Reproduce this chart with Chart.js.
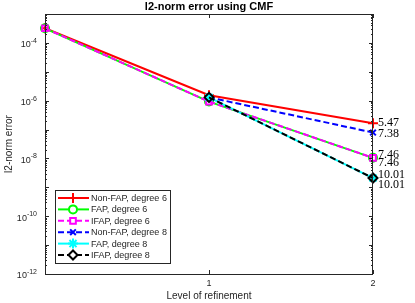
<!DOCTYPE html>
<html>
<head>
<meta charset="utf-8">
<script src="https://cdn.jsdelivr.net/npm/chart.js@4.4.0/dist/chart.umd.min.js"></script>
<style>
  html, body { margin: 0; padding: 0; background: #fff; }
  #wrap { width: 415px; height: 303px; }
</style>
</head>
<body>
<div id="wrap"><canvas id="c"></canvas></div>
<script>
// refinement levels on the x axis
const levels = [0, 1, 2];

// l2-norm errors per level (null = not computed)
const nonFap6 = [3.2e-4, 1.55e-6, 1.65e-7];
const fap6    = [3.2e-4, 9.3e-7, 1.05e-8];
const ifap6   = [3.2e-4, 9.3e-7, 1.05e-8];
const nonFap8 = [null, 1.3e-6, 7.9e-8];
const fap8    = [null, 1.3e-6, 2.1e-9];
const ifap8   = [null, 1.3e-6, 2.1e-9];

const seriesNames = ['Non-FAP, degree 6', 'FAP, degree 6', 'IFAP, degree 6',
                     'Non-FAP, degree 8', 'FAP, degree 8', 'IFAP, degree 8'];
// convergence rates written next to the last point
const rates = ['5.47', '7.46', '7.46', '7.38', '10.01', '10.01'];

const yTicks = [1e-12, 1e-10, 1e-8, 1e-6, 1e-4];
const xTicks = [1, 2];

const AXIS = '#262626';

function toPoints(vals) {
  const pts = [];
  vals.forEach((v, i) => { if (v !== null) pts.push({ x: levels[i], y: v }); });
  return pts;
}

const styles = [
  { color: '#ff0000', dash: [],     marker: 'cross',    r: 5 },
  { color: '#00ff00', dash: [],     marker: 'circle',   r: 4 },
  { color: '#ff00ff', dash: [6, 3], marker: 'rect',     r: 4 },
  { color: '#0000ff', dash: [6, 3], marker: 'crossRot', r: 4 },
  { color: '#00ffff', dash: [],     marker: 'star',     r: 5 },
  { color: '#000000', dash: [6, 3], marker: 'rectRot',  r: 4.5 }
];
const allSeries = [nonFap6, fap6, ifap6, nonFap8, fap8, ifap8];

const datasets = allSeries.map((vals, i) => ({
  label: seriesNames[i],
  data: toPoints(vals),
  showLine: true,
  clip: false,
  borderColor: styles[i].color,
  borderWidth: 2,
  borderDash: styles[i].dash,
  pointStyle: styles[i].marker,
  pointRadius: styles[i].r,
  pointBorderColor: styles[i].color,
  pointBackgroundColor: 'rgba(0,0,0,0)',
  pointBorderWidth: 2,
  order: 5 - i   // later series on top, like matlab
}));

// text offsets of the rate labels (px)
const rateOffsets = [0, -3, 5, 1, -3, 7];

const decor = {
  id: 'decor',
  afterDraw(chart) {
    const ctx = chart.ctx;
    const a = chart.chartArea;
    const xs = chart.scales.x, ys = chart.scales.y;
    ctx.save();

    // box
    ctx.strokeStyle = AXIS;
    ctx.lineWidth = 1;
    ctx.strokeRect(a.left + 0.5, a.top + 0.5, a.right - a.left - 1, a.bottom - a.top);

    // inward ticks on y (major + minor)
    ctx.beginPath();
    for (let e = -12; e <= -3; e++) {
      for (let m = 1; m <= 9; m++) {
        const v = m * Math.pow(10, e);
        if (v > 1e-3 * 1.0001) break;
        const py = Math.round(ys.getPixelForValue(v)) + 0.5;
        const len = (m === 1) ? 4 : 2;
        ctx.moveTo(a.left, py); ctx.lineTo(a.left + len, py);
        ctx.moveTo(a.right, py); ctx.lineTo(a.right - len, py);
      }
    }
    xTicks.forEach(t => {
      const px = Math.round(xs.getPixelForValue(t)) + 0.5;
      ctx.moveTo(px, a.bottom); ctx.lineTo(px, a.bottom - 4);
      ctx.moveTo(px, a.top); ctx.lineTo(px, a.top + 4);
    });
    ctx.stroke();

    // y tick labels 10^n
    ctx.fillStyle = AXIS;
    ctx.textBaseline = 'middle';
    yTicks.forEach(v => {
      const py = ys.getPixelForValue(v);
      const exp = String(Math.round(Math.log10(v)));
      ctx.font = '7px "Liberation Sans", Arial, sans-serif';
      const ew = ctx.measureText(exp).width;
      ctx.textAlign = 'right';
      ctx.fillText(exp, a.left - 8, py - 2);
      ctx.font = '9px "Liberation Sans", Arial, sans-serif';
      ctx.fillText('10', a.left - 8 - ew, py + 2);
    });

    // title
    ctx.fillStyle = '#000';
    ctx.textAlign = 'center';
    ctx.font = 'bold 11px "Liberation Sans", Arial, sans-serif';
    ctx.fillText('l2-norm error using CMF', (a.left + a.right) / 2, 7);

    // rate labels at last points
    ctx.font = '12px "Liberation Serif", "Times New Roman", serif';
    ctx.textAlign = 'left';
    chart.data.datasets.forEach((ds, i) => {
      const last = ds.data[ds.data.length - 1];
      const px = xs.getPixelForValue(last.x);
      const py = ys.getPixelForValue(last.y);
      ctx.fillText(rates[i], px + 5, py + rateOffsets[i]);
    });

    // legend inside the axes
    const lx = 55, ly = 190, lw = 115, lh = 73;
    ctx.fillStyle = '#fff';
    ctx.fillRect(lx, ly, lw, lh);
    ctx.strokeStyle = AXIS;
    ctx.lineWidth = 1;
    ctx.strokeRect(lx + 0.5, ly + 0.5, lw, lh);
    ctx.font = '9px "Liberation Sans", Arial, sans-serif';
    ctx.textBaseline = 'middle';
    chart.data.datasets.forEach((ds, i) => {
      const y = ly + 8 + i * 11.4;
      ctx.save();
      ctx.strokeStyle = ds.borderColor;
      ctx.lineWidth = 2;
      ctx.setLineDash(ds.borderDash);
      ctx.beginPath();
      ctx.moveTo(lx + 3, y); ctx.lineTo(lx + 34, y);
      ctx.stroke();
      ctx.setLineDash([]);
      ctx.fillStyle = '#fff';
      ctx.strokeStyle = ds.borderColor;
      ctx.lineWidth = 2;
      Chart.helpers.drawPoint(ctx, { pointStyle: ds.pointStyle, radius: ds.pointRadius, borderWidth: 2, rotation: 0 }, lx + 18, y);
      ctx.restore();
      ctx.fillStyle = AXIS;
      ctx.textAlign = 'left';
      ctx.fillText(ds.label, lx + 36, y + 0.5);
    });

    ctx.restore();
  }
};

new Chart(document.getElementById('c'), {
  type: 'scatter',
  data: { datasets },
  options: {
    responsive: true,
    maintainAspectRatio: false,
    animation: false,
    layout: { padding: { top: 14, right: 42, left: 0, bottom: 0 } },
    plugins: {
      legend: { display: false },
      tooltip: { enabled: false },
      title: { display: false }
    },
    scales: {
      x: {
        type: 'linear',
        min: 0, max: 2,
        afterBuildTicks: s => { s.ticks = xTicks.map(v => ({ value: v })); },
        afterFit: s => { s.height = 29; },
        grid: { display: false, drawTicks: false },
        border: { display: false },
        ticks: {
          color: AXIS, padding: 4,
          font: { family: '"Liberation Sans", Arial, sans-serif', size: 9 },
          callback: v => String(v)
        },
        title: {
          display: true, text: 'Level of refinement', color: AXIS,
          font: { family: '"Liberation Sans", Arial, sans-serif', size: 10 },
          padding: { top: 0, bottom: 1 }
        }
      },
      y: {
        type: 'logarithmic',
        min: 1e-12, max: 1e-3,
        afterBuildTicks: s => { s.ticks = yTicks.map(v => ({ value: v })); },
        afterFit: s => { s.width = 45; },
        grid: { display: false, drawTicks: false },
        border: { display: false },
        ticks: { callback: () => '' },
        title: {
          display: true, text: 'l2-norm error', color: AXIS,
          font: { family: '"Liberation Sans", Arial, sans-serif', size: 10 },
          padding: { top: 3, bottom: 0 }
        }
      }
    }
  },
  plugins: [decor]
});
</script>
</body>
</html>
